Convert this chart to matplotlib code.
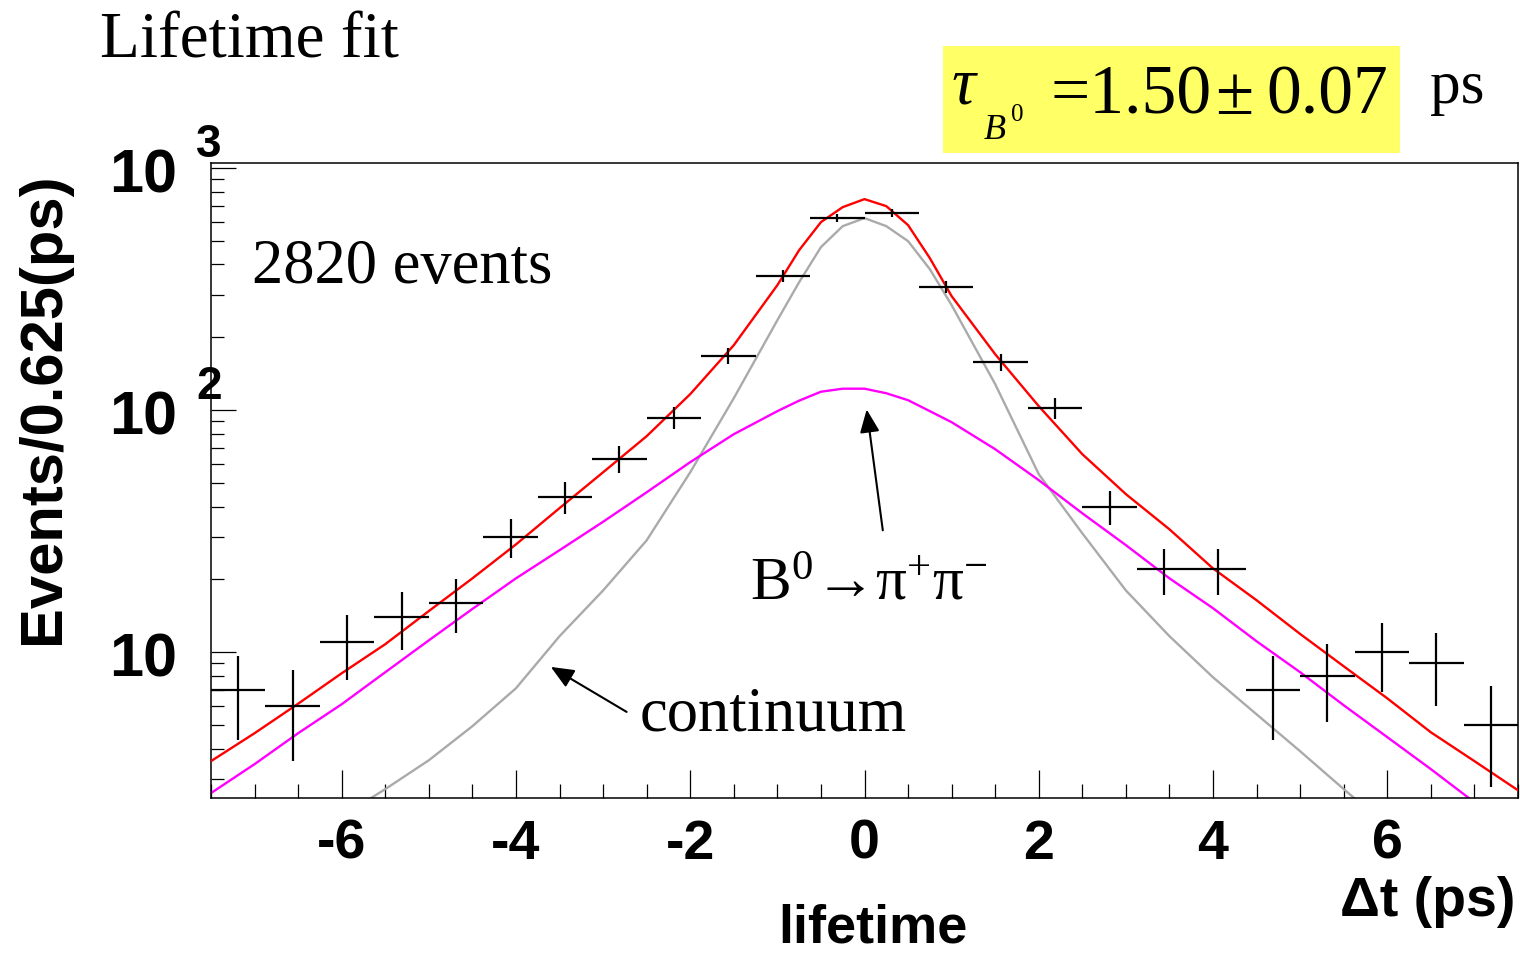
import numpy as np
import matplotlib
matplotlib.use("Agg")
import matplotlib.pyplot as plt
from matplotlib.patches import Rectangle
from matplotlib.ticker import MultipleLocator, FixedLocator, LogLocator, NullFormatter
from matplotlib.transforms import offset_copy

plt.rcParams['font.family'] = ['Liberation Sans', 'DejaVu Sans']
plt.rcParams['axes.unicode_minus'] = False
plt.rcParams['mathtext.fontset'] = 'custom'
plt.rcParams['mathtext.rm'] = 'Liberation Serif'
plt.rcParams['mathtext.it'] = 'Liberation Serif:italic'
plt.rcParams['mathtext.bf'] = 'Liberation Serif:bold'

# ---- histogram of Δt, 0.625 ps bins ----
bin_edges = np.linspace(-7.5, 7.5, 25)
counts = [7, 6, 11, 14, 16, 30, 44, 63, 93, 168, 359, 624,
          652, 324, 158, 102, 40, 22, 22, 7, 8, 10, 9, 5]

# ---- fit curves, sampled along Δt ----
t_fit = [-7.5, -7.0, -6.5, -6.0, -5.5, -5.0, -4.5, -4.0, -3.5, -3.0, -2.5,
         -2.0, -1.5, -1.0, -0.75, -0.5, -0.25, 0.0, 0.25, 0.5, 0.75, 1.0,
         1.5, 2.0, 2.5, 3.0, 3.5, 4.0, 4.5, 5.0, 5.5, 6.0, 6.5, 7.0, 7.5]
fit_total = [3.55, 4.63, 6.13, 8.19, 10.8, 14.8, 20.2, 27.9, 39.4, 55.4, 78.1,
             116.5, 185.6, 328.5, 458.3, 598.3, 690.0, 744.6, 696.6, 581.5, 424.8, 295.9,
             170.3, 103.9, 65.8, 45.0, 32.2, 22.2, 16.4, 11.9, 8.75, 6.45, 4.67, 3.55, 2.69]
fit_signal = [2.62, 3.45, 4.63, 6.10, 8.27, 11.2, 15.1, 20.2, 26.4, 34.6, 45.8,
              61.0, 79.6, 99.1, 109.5, 119.2, 122.7, 122.7, 117.5, 110.0, 99.1, 89.2,
              69.0, 51.4, 37.5, 27.7, 20.2, 15.2, 11.1, 8.27, 6.04, 4.46, 3.29, 2.40, 1.77]
t_cont = [-6.0, -5.5, -5.0, -4.5, -4.0, -3.5, -3.0, -2.5, -2.0, -1.5, -1.0,
          -0.75, -0.5, -0.25, 0.0, 0.25, 0.5, 0.75, 1.0, 1.5, 2.0, 2.5, 3.0,
          3.5, 4.0, 4.5, 5.0, 5.5, 6.0]
fit_continuum = [2.10, 2.72, 3.58, 4.95, 7.10, 11.65, 18.0, 29.0, 55.4, 112.1, 235.4,
                 338.0, 471.6, 575.9, 621.6, 575.9, 499.3, 382.3, 271.6, 128.1, 54.4, 31.0, 18.0,
                 11.65, 7.88, 5.54, 3.90, 2.72, 1.91]

xtick_values = [-6, -4, -2, 0, 2, 4, 6]
ytick_values = [10, 100, 1000]
ytick_exponents = ['', '2', '3']

W, H = 1520, 955
fig = plt.figure(figsize=(W / 100, H / 100), dpi=100)
fig.patch.set_facecolor('white')


def fx(px):
    return px / W


def fy(py):
    return 1 - py / H


ax = fig.add_axes([fx(211), fy(798), 1307 / W, 635 / H])

# data points with Poisson errors, horizontal bar spanning the bin
centers = 0.5 * (bin_edges[:-1] + bin_edges[1:])
half_width = 0.5 * (bin_edges[1] - bin_edges[0])
n = np.array(counts, dtype=float)
ax.errorbar(centers, n, yerr=np.sqrt(n), xerr=half_width, fmt='none',
            ecolor='black', elinewidth=1.6, capsize=0, zorder=4)

# fit components
ax.plot(t_cont, fit_continuum, color='#aaaaaa', lw=1.7, zorder=2)
ax.plot(t_fit, fit_signal, color='#ff00ff', lw=1.7, zorder=2)
ax.plot(t_fit, fit_total, color='#ff0000', lw=1.7, zorder=3)

ax.set_yscale('log')
ax.set_xlim(-7.5, 7.5)
ax.set_ylim(2.5, 1050)

for s in ax.spines.values():
    s.set_linewidth(1.1)
    s.set_color('black')

# x axis ticks
ax.xaxis.set_major_locator(FixedLocator(xtick_values))
ax.xaxis.set_minor_locator(MultipleLocator(0.5))
ax.set_xticklabels([str(v) for v in xtick_values], fontsize=40, fontweight='bold')
ax.tick_params(axis='x', which='major', direction='in', length=20, width=0.9, pad=15)
ax.tick_params(axis='x', which='minor', direction='in', length=10, width=0.9)

# y axis ticks (labels drawn separately as 10 with exponent)
ax.yaxis.set_major_locator(FixedLocator(ytick_values))
ax.yaxis.set_minor_locator(LogLocator(base=10, subs=range(2, 10)))
ax.yaxis.set_major_formatter(NullFormatter())
ax.yaxis.set_minor_formatter(NullFormatter())
ax.tick_params(axis='y', which='major', direction='in', length=18, width=0.9)
ax.tick_params(axis='y', which='minor', direction='in', length=9.5, width=0.9)

ytrans = ax.get_yaxis_transform()
for v, e in zip(ytick_values, ytick_exponents):
    ax.text(0, v, '10', transform=offset_copy(ytrans, fig=fig, x=-34, y=-24, units='dots'),
            ha='right', va='baseline', fontsize=44, fontweight='bold', clip_on=False)
    if e:
        ax.text(0, v, e, transform=offset_copy(ytrans, fig=fig, x=-15, y=11, units='dots'),
                ha='left', va='baseline', fontsize=33, fontweight='bold', clip_on=False)

# axis titles
fig.text(fx(44), fy(408), 'Events/0.625(ps)', rotation=90, ha='center', va='center',
         fontsize=43, fontweight='bold')
fig.text(fx(873), fy(942), 'lifetime', ha='center', va='baseline', fontsize=39, fontweight='bold')
fig.text(fx(1515), fy(916), 'Δt (ps)', ha='right', va='baseline', fontsize=40, fontweight='bold')

# annotations
serif = 'Liberation Serif'
fig.text(fx(100), fy(57), 'Lifetime fit', family=serif, fontsize=47, va='baseline')
fig.text(fx(252), fy(283), '2820 events', family=serif, fontsize=45, va='baseline')
fig.text(fx(750), fy(600), r'B$^{0}$→π$^{+}$π$^{-}$', family=serif, fontsize=44, va='baseline')
fig.text(fx(640), fy(730), 'continuum', family=serif, fontsize=45, va='baseline')

arrow_style = dict(arrowstyle='-|>,head_length=0.7,head_width=0.3', color='black',
                   lw=1.5, shrinkA=0, shrinkB=0, mutation_scale=20)
ax.annotate('', xy=(-3.60, 8.70), xytext=(-2.73, 5.67), arrowprops=arrow_style)
ax.annotate('', xy=(0.025, 100.7), xytext=(0.21, 31.9), arrowprops=arrow_style)

# lifetime result box
fig.add_artist(Rectangle((fx(943), fy(153)), (1400 - 943) / W, (153 - 46) / H,
                         transform=fig.transFigure, facecolor='#ffff66',
                         edgecolor='none', zorder=0))
fig.text(fx(952), fy(103), 'τ', family=serif, style='italic', fontsize=48, va='baseline')
fig.text(fx(984), fy(139), 'B', family=serif, style='italic', fontsize=26, va='baseline')
fig.text(fx(1011), fy(121), '0', family=serif, fontsize=18, va='baseline')
fig.text(fx(1050), fy(114), '=1.50', family=serif, fontsize=50, va='baseline')
fig.text(fx(1215), fy(114), '±', family=serif, fontsize=50, va='baseline')
fig.text(fx(1266), fy(114), '0.07', family=serif, fontsize=50, va='baseline')
fig.text(fx(1430), fy(103), 'ps', family=serif, fontsize=44, va='baseline')

fig.savefig('out.png', dpi=100, facecolor='white')
